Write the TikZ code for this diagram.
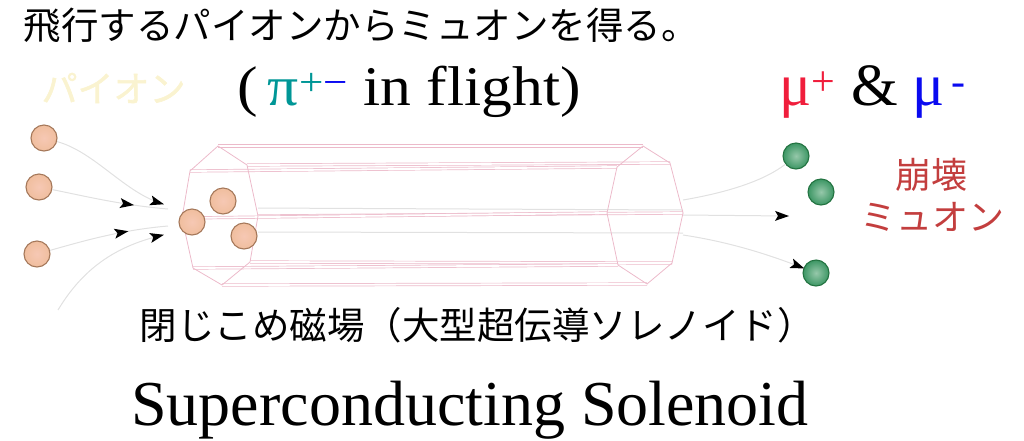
\documentclass[tikz,border=0pt]{standalone}
\usepackage{fontspec}
\setmainfont{Liberation Serif}
\newfontfamily\jpfont{Noto Sans CJK JP}
\newfontfamily\jpheavy[FakeBold=1.6]{Noto Sans CJK JP}
\usetikzlibrary{arrows.meta,decorations.markings}

\definecolor{tubepink}{RGB}{236,186,202}
\definecolor{pathgray}{RGB}{225,225,225}
\definecolor{pionfill}{RGB}{240,190,158}
\definecolor{pioncore}{RGB}{246,200,180}
\definecolor{pionedge}{RGB}{165,120,90}
\definecolor{muonfill}{RGB}{60,150,100}
\definecolor{muoncore}{RGB}{150,200,170}
\definecolor{muonedge}{RGB}{35,115,65}
\definecolor{decayred}{RGB}{195,62,62}
\definecolor{pionlabel}{RGB}{250,243,208}
\definecolor{piteal}{RGB}{0,150,150}
\definecolor{muplus}{RGB}{240,30,60}
\definecolor{muminus}{RGB}{10,10,240}

\tikzset{
  pion/.style={circle, minimum size=26pt, inner sep=0pt, draw=pionedge, line width=1.1pt,
    inner color=pioncore, outer color=pionfill},
  muon/.style={circle, minimum size=26pt, inner sep=0pt, draw=muonedge, line width=1.1pt,
    inner color=muoncore, outer color=muonfill},
  flightpath/.style={draw=pathgray, line width=1pt},
  tube/.style={draw=tubepink, line width=0.8pt},
  tubeline/.style={draw=tubepink, line width=0.7pt, double=white, double distance=1.8pt},
  headat/.style={postaction={decorate}, decoration={markings,
    mark=at position #1 with {\fill[black] (-13pt,-5pt) -- (1pt,0pt) -- (-13pt,5pt) -- (-10pt,0pt) -- cycle;}}},
  jp/.style={font=\jpfont\fontsize{37.5}{40}\selectfont},
}

\begin{document}
\begin{tikzpicture}[x=1pt,y=-1pt]
\useasboundingbox (0,0) rectangle (1024,440);

% solenoid: the two end octagons
\coordinate (lT) at (218,146); \coordinate (lUR) at (247,165); \coordinate (lR) at (258,216);
\coordinate (lLR) at (250,262); \coordinate (lB) at (222,285); \coordinate (lLL) at (193,268);
\coordinate (lL) at (182,218); \coordinate (lUL) at (190,171);
\coordinate (rT) at (643,146); \coordinate (rUR) at (670,163); \coordinate (rR) at (683,213);
\coordinate (rLR) at (672,263); \coordinate (rB) at (647,284); \coordinate (rLL) at (618,265);
\coordinate (rL) at (607,213); \coordinate (rUL) at (617,167);

% faint particle tracks running through the bore
\coordinate (bore1) at (258,208); \coordinate (bore2) at (683,210);
\coordinate (bore3) at (258,232); \coordinate (bore4) at (683,233);
\draw[flightpath] (bore1) -- (bore2);
\draw[flightpath] (bore3) -- (bore4);

\foreach \v in {T,UR,R,LR,B,LL,L,UL}{\draw[tubeline] (l\v) -- (r\v);}
\draw[tube] (lT) -- (lUR) -- (lR) -- (lLR) -- (lB) -- (lLL) -- (lL) -- (lUL) -- cycle;
\draw[tube] (rT) -- (rUR) -- (rR) -- (rLR) -- (rB) -- (rLL) -- (rL) -- (rUL) -- cycle;

% incoming pions
\node[pion] (p1) at (44,138) {};
\node[pion] (p2) at (39,187) {};
\node[pion] (p3) at (37,254) {};
\node[pion] (p4) at (192,222) {};
\node[pion] (p5) at (223,201) {};
\node[pion] (p6) at (244,236) {};

\coordinate (in1) at (163,204);
\coordinate (in2) at (168,209);
\coordinate (in3) at (168,226);
\coordinate (in4) at (163,235);
\coordinate (in4s) at (58,310);

\draw[flightpath, headat=1] (p1) .. controls (95,152) and (125,193) .. (in1);
\draw[flightpath, headat=0.7] (p2) .. controls (80,195) and (120,205) .. (in2);
\draw[flightpath, headat=0.66] (p3) .. controls (80,242) and (120,230) .. (in3);
\draw[flightpath, headat=1] (in4s) .. controls (85,265) and (120,245) .. (in4);

% outgoing muons
\node[muon] (m1) at (796,156) {};
\node[muon] (m2) at (821,192) {};
\node[muon] (m3) at (816,273) {};

\coordinate (out1) at (683,200);
\coordinate (out2) at (683,215);
\coordinate (out2e) at (788,216);
\coordinate (out3) at (683,235);

\draw[flightpath] (out1) .. controls (730,192) and (765,180) .. (m1);
\draw[flightpath, headat=1] (out2) -- (out2e);
\draw[flightpath, headat=1] (out3) .. controls (730,242) and (770,255) .. (m3);

% labels
\node[jp, anchor=west] (title) at (20,25) {飛行するパイオンからミュオンを得る。};
\node[font=\jpheavy\fontsize{36}{40}\selectfont, text=pionlabel, anchor=west] (pilabel) at (38,88) {パイオン};
\node[font=\fontsize{56}{60}\selectfont, anchor=base] (pions) at (409,105)
  {\scalebox{1.1}[1]{(\,\textcolor{piteal}{π}\textsuperscript{\textcolor{piteal}{+}\textcolor{muminus}{−}} in flight)}};
\node[font=\fontsize{60}{64}\selectfont, anchor=base] (muons) at (873,105)
  {\textcolor{muplus}{μ\textsuperscript{+}} \& \textcolor{muminus}{μ\textsuperscript{\,-}}};
\node[font=\jpfont\fontsize{36}{40}\selectfont, text=decayred] (decay1) at (931,175) {崩壊};
\node[font=\jpfont\fontsize{36}{40}\selectfont, text=decayred] (decay2) at (932,217) {ミュオン};
\node[jp] (field) at (477,325) {閉じこめ磁場（大型超伝導ソレノイド）};
\node[font=\fontsize{64}{68}\selectfont, anchor=base] (sc) at (470,425) {Superconducting Solenoid};
\end{tikzpicture}
\end{document}
